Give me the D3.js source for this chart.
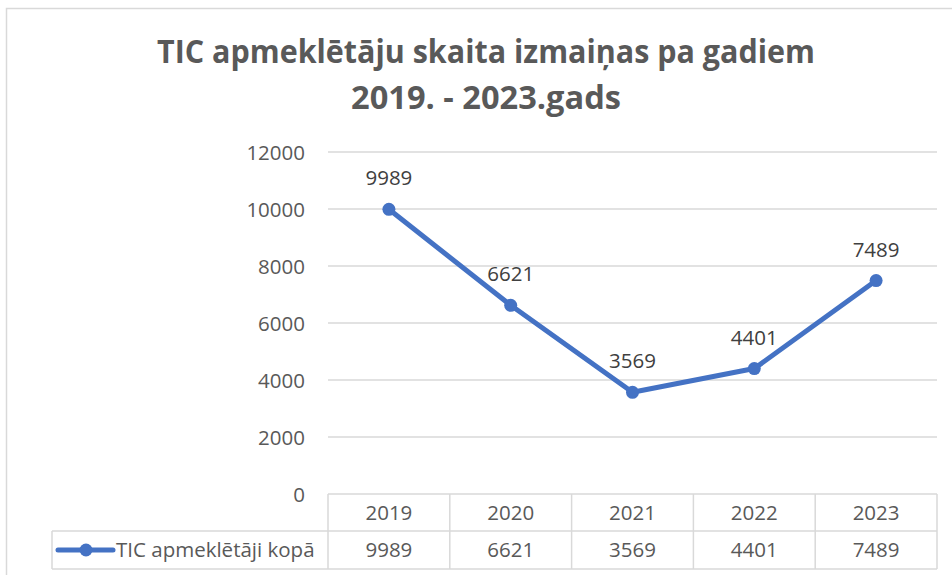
<!DOCTYPE html>
<html><head><meta charset="utf-8">
<script src="https://cdn.jsdelivr.net/npm/d3@7"></script>
<style>
html,body{margin:0;padding:0;background:#fff;}
svg{display:block;font-family:"Open Sans",sans-serif;}
</style></head>
<body>
<svg id="c" width="952" height="575"></svg>
<script>
const years = ["2019","2020","2021","2022","2023"];
const visitors = [9989, 6621, 3569, 4401, 7489];
const seriesName = "TIC apmeklētāji kopā";
const yTicks = [0, 2000, 4000, 6000, 8000, 10000, 12000];
const titleLines = ["TIC apmeklētāju skaita izmaiņas pa gadiem", "2019. - 2023.gads"];

const svg = d3.select("#c");
const textColor = "#595959", gridColor = "#d9d9d9", lineColor = "#4472C4";
const fs = 20.5;

// outer border
svg.append("rect").attr("x",6.5).attr("y",8.5).attr("width",960).attr("height",600)
  .attr("fill","none").attr("stroke",gridColor).attr("stroke-width",1.5);

// title
const titleWidths = [658, 270];
titleLines.forEach((t,i)=>{
  svg.append("text").attr("x",486).attr("y",63 + i*46).attr("text-anchor","middle")
    .attr("font-size",33).attr("font-weight","bold").attr("fill",textColor)
    .attr("textLength",titleWidths[i]).attr("lengthAdjust","spacingAndGlyphs").text(t);
});

const x = d3.scaleBand().domain(years).range([328, 937]);
const y = d3.scaleLinear().domain([0,12000]).range([494, 152]);

// gridlines
svg.append("g").selectAll("line").data(yTicks.filter(d=>d>0)).join("line")
  .attr("x1",x.range()[0]).attr("x2",x.range()[1])
  .attr("y1",d=>y(d)).attr("y2",d=>y(d))
  .attr("stroke",gridColor).attr("stroke-width",1.3);

// y axis labels
const yAxis = d3.axisLeft(y).tickValues(yTicks).tickSize(0).tickPadding(0).tickFormat(d3.format("d"));
const ya = svg.append("g").attr("transform","translate(305,0)").call(yAxis);
ya.select(".domain").remove();
ya.selectAll("text").attr("font-size",fs).attr("fill",textColor).attr("font-family","Open Sans").attr("dy","0.36em");

// data table
const rowTop = 494, rowMid = 531, rowBot = 569, legLeft = 52;
const tbl = svg.append("g").attr("stroke",gridColor).attr("stroke-width",1.5).attr("fill","none");
tbl.append("line").attr("x1",x.range()[0]).attr("x2",x.range()[1]).attr("y1",rowTop).attr("y2",rowTop);
tbl.append("line").attr("x1",legLeft).attr("x2",x.range()[1]).attr("y1",rowMid).attr("y2",rowMid);
tbl.append("line").attr("x1",legLeft).attr("x2",x.range()[1]).attr("y1",rowBot).attr("y2",rowBot);
const vx = years.map(d=>x(d)).concat([x.range()[1]]);
tbl.selectAll("line.v").data(vx).join("line").attr("class","v")
  .attr("x1",d=>d).attr("x2",d=>d).attr("y1",rowTop).attr("y2",rowBot);
tbl.append("line").attr("x1",legLeft).attr("x2",legLeft).attr("y1",rowMid).attr("y2",rowBot);

svg.append("g").selectAll("text").data(years).join("text")
  .attr("x",d=>x(d)+x.bandwidth()/2).attr("y",(rowTop+rowMid)/2).attr("dy","0.36em")
  .attr("text-anchor","middle").attr("font-size",fs).attr("fill",textColor).text(d=>d);
svg.append("g").selectAll("text").data(visitors).join("text")
  .attr("x",(d,i)=>x(years[i])+x.bandwidth()/2).attr("y",(rowMid+rowBot)/2).attr("dy","0.36em")
  .attr("text-anchor","middle").attr("font-size",fs).attr("fill",textColor).text(d=>d);

// legend key
const ly = (rowMid+rowBot)/2;
svg.append("line").attr("x1",58).attr("x2",113).attr("y1",ly).attr("y2",ly)
  .attr("stroke",lineColor).attr("stroke-width",5).attr("stroke-linecap","round");
svg.append("circle").attr("cx",86).attr("cy",ly).attr("r",6.5).attr("fill",lineColor);
svg.append("text").attr("x",116).attr("y",ly).attr("dy","0.36em").attr("font-size",fs)
  .attr("fill",textColor).text(seriesName);

// line
const pts = years.map((d,i)=>[x(d)+x.bandwidth()/2, y(visitors[i])]);
svg.append("path").attr("d",d3.line()(pts)).attr("fill","none")
  .attr("stroke",lineColor).attr("stroke-width",5).attr("stroke-linejoin","round").attr("stroke-linecap","round");
svg.append("g").selectAll("circle").data(pts).join("circle")
  .attr("cx",d=>d[0]).attr("cy",d=>d[1]).attr("r",6.5).attr("fill",lineColor);
svg.append("g").selectAll("text").data(pts).join("text")
  .attr("x",d=>d[0]).attr("y",d=>d[1]-24).attr("text-anchor","middle")
  .attr("font-size",fs).attr("fill","#404040").text((d,i)=>visitors[i]);
</script>
</body></html>
